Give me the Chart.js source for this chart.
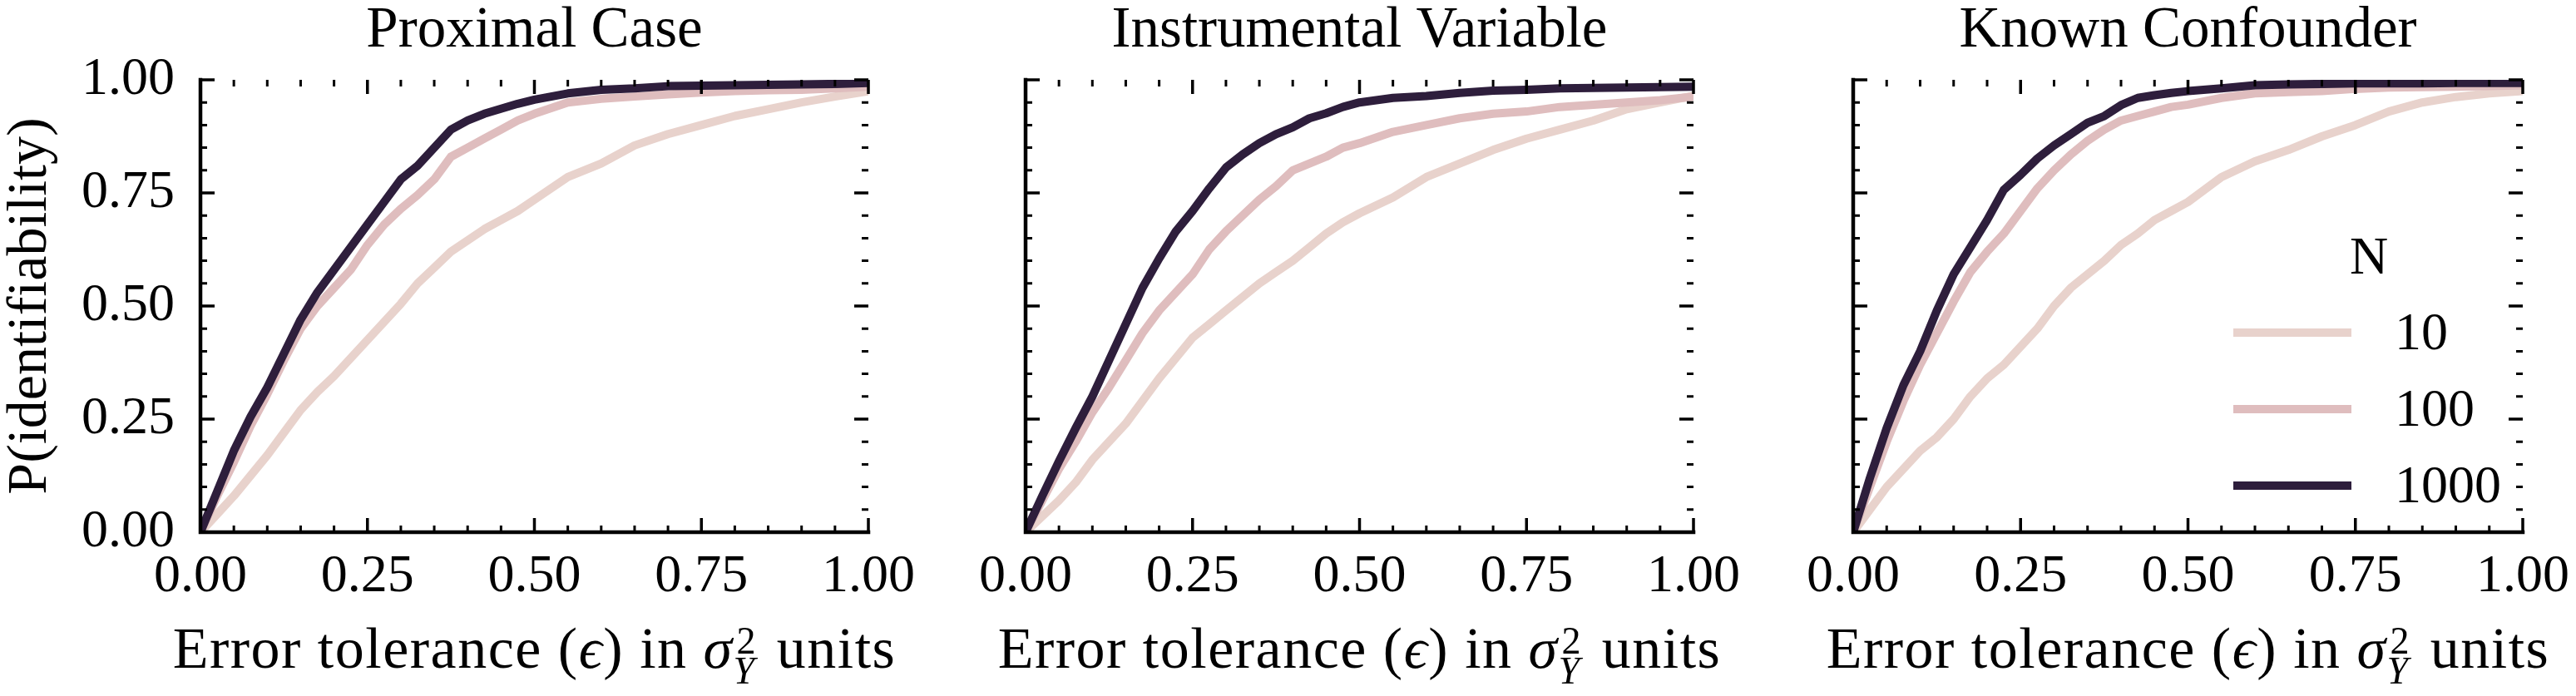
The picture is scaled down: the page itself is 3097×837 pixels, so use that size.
<!DOCTYPE html>
<html>
<head>
<meta charset="utf-8">
<script src="https://cdn.jsdelivr.net/npm/chart.js@4.4.1/dist/chart.umd.min.js"></script>
<style>
  html, body { margin: 0; padding: 0; background: #fff; }
  #wrap { position: relative; width: 3097px; height: 837px; overflow: hidden; }
  #wrap canvas { position: absolute; top: 0; }
</style>
</head>
<body>
<div id="wrap">
  <canvas id="c0" width="1104" height="837" style="left:0px"></canvas>
  <canvas id="c1" width="1104" height="837" style="left:992px"></canvas>
  <canvas id="c2" width="1104" height="837" style="left:1987px"></canvas>
</div>
<script>
/* ---------- данные ---------- */
const eps = [0, 0.025, 0.05, 0.075, 0.1, 0.125, 0.15, 0.175, 0.2, 0.225, 0.25, 0.275, 0.3, 0.325, 0.35,
             0.375, 0.4, 0.425, 0.45, 0.475, 0.5, 0.55, 0.6, 0.65, 0.7, 0.75, 0.8, 0.85, 0.9, 0.95, 1.0];
const sampleSizes = ['10', '100', '1000'];
const panelTitles = ['Proximal Case', 'Instrumental Variable', 'Known Confounder'];
const tickVals = [0, 0.25, 0.5, 0.75, 1];

// Proximal Case
const proxN10   = [0, 0.04, 0.08, 0.125, 0.17, 0.22, 0.27, 0.31, 0.345, 0.385, 0.425, 0.465, 0.505, 0.55, 0.585,
                   0.62, 0.645, 0.67, 0.69, 0.71, 0.735, 0.785, 0.815, 0.855, 0.88, 0.90, 0.92, 0.935, 0.95, 0.963, 0.975];
const proxN100  = [0, 0.08, 0.155, 0.235, 0.305, 0.38, 0.45, 0.50, 0.54, 0.58, 0.635, 0.68, 0.715, 0.745, 0.78,
                   0.83, 0.85, 0.87, 0.89, 0.91, 0.925, 0.95, 0.958, 0.963, 0.968, 0.972, 0.975, 0.977, 0.978, 0.981, 0.985];
const proxN1000 = [0, 0.09, 0.18, 0.255, 0.32, 0.395, 0.47, 0.53, 0.58, 0.63, 0.68, 0.73, 0.78, 0.81, 0.85,
                   0.89, 0.91, 0.925, 0.936, 0.947, 0.956, 0.97, 0.978, 0.981, 0.986, 0.987, 0.988, 0.989, 0.99, 0.991, 0.993];

// Instrumental Variable
const ivN10   = [0, 0.035, 0.07, 0.11, 0.16, 0.20, 0.24, 0.29, 0.34, 0.385, 0.43, 0.46, 0.49, 0.52, 0.55,
                 0.575, 0.60, 0.63, 0.66, 0.685, 0.705, 0.74, 0.785, 0.815, 0.845, 0.87, 0.89, 0.91, 0.935, 0.95, 0.965];
const ivN100  = [0, 0.07, 0.14, 0.20, 0.265, 0.32, 0.38, 0.44, 0.49, 0.53, 0.57, 0.625, 0.665, 0.70, 0.735,
                 0.765, 0.80, 0.815, 0.83, 0.85, 0.86, 0.885, 0.90, 0.915, 0.925, 0.93, 0.94, 0.945, 0.95, 0.955, 0.963];
const ivN1000 = [0, 0.08, 0.157, 0.23, 0.30, 0.38, 0.46, 0.54, 0.605, 0.665, 0.71, 0.76, 0.806, 0.835, 0.86,
                 0.88, 0.895, 0.915, 0.926, 0.94, 0.95, 0.96, 0.964, 0.971, 0.976, 0.978, 0.981, 0.982, 0.983, 0.984, 0.985];

// Known Confounder
const kcN10   = [0, 0.05, 0.10, 0.14, 0.18, 0.21, 0.25, 0.30, 0.34, 0.37, 0.41, 0.45, 0.50, 0.54, 0.57,
                 0.60, 0.635, 0.66, 0.69, 0.71, 0.73, 0.785, 0.82, 0.845, 0.875, 0.90, 0.93, 0.95, 0.962, 0.97, 0.975];
const kcN100  = [0, 0.10, 0.20, 0.29, 0.37, 0.44, 0.51, 0.575, 0.62, 0.66, 0.71, 0.76, 0.80, 0.835, 0.865,
                 0.89, 0.91, 0.92, 0.93, 0.94, 0.945, 0.96, 0.97, 0.973, 0.975, 0.98, 0.983, 0.984, 0.985, 0.986, 0.988];
const kcN1000 = [0, 0.12, 0.23, 0.325, 0.40, 0.49, 0.57, 0.63, 0.69, 0.757, 0.79, 0.826, 0.855, 0.88, 0.905,
                 0.92, 0.944, 0.96, 0.966, 0.971, 0.975, 0.981, 0.988, 0.99, 0.991, 0.992, 0.992, 0.992, 0.993, 0.993, 0.993];

const panelSeries = [
  [proxN10, proxN100, proxN1000],
  [ivN10, ivN100, ivN1000],
  [kcN10, kcN100, kcN1000]
];

/* ---------- стиль ---------- */
const lineColors = ['#e8d2cc', '#dfbdbe', '#2e1e3c'];
const SERIF = '"Liberation Serif", "DejaVu Serif", serif';
const FS_TICK = 64;      // цифры
const FS_TEXT = 69;      // слова
const PLOT_W = [803, 803, 805];

/* ---------- рамка, засечки, подпись оси, легенда ---------- */
const frame = {
  id: 'frame',
  afterDatasetsDraw(chart) {
    const {ctx, chartArea: a, scales: {x, y}} = chart;
    ctx.save();
    ctx.strokeStyle = '#000';
    ctx.lineCap = 'butt';
    for (let i = 0; i <= 20; i++) {
      const v = i / 20;
      const major = i % 5 === 0;
      const len = major ? 17 : 8;
      ctx.lineWidth = major ? 3.5 : 3;
      const px = x.getPixelForValue(v), py = y.getPixelForValue(v);
      ctx.beginPath();
      ctx.moveTo(px, a.bottom); ctx.lineTo(px, a.bottom - len);
      ctx.moveTo(px, a.top);    ctx.lineTo(px, a.top + len);
      ctx.moveTo(a.left, py);   ctx.lineTo(a.left + len, py);
      ctx.moveTo(a.right, py);  ctx.lineTo(a.right - len, py);
      ctx.stroke();
    }
    // только левая и нижняя оси
    ctx.lineWidth = 4.5;
    ctx.lineCap = 'square';
    ctx.beginPath();
    ctx.moveTo(a.left, a.top);
    ctx.lineTo(a.left, a.bottom);
    ctx.lineTo(a.right, a.bottom);
    ctx.stroke();
    ctx.restore();
  },
  afterDraw(chart, args, opts) {
    const {ctx, chartArea: a} = chart;
    ctx.save();
    ctx.fillStyle = '#000';
    ctx.textBaseline = 'alphabetic';
    // Error tolerance (ϵ) in σ²_Y units
    const reg = `70px ${SERIF}`, ital = `italic 70px ${SERIF}`;
    const small = `46px ${SERIF}`, smallIt = `italic 46px ${SERIF}`;
    const parts = [
      {t: 'Error tolerance (', f: reg},
      {t: '\u03F5', f: ital},
      {t: ') in ', f: reg},
      {t: '\u03C3', f: ital},
      {sup: '2', sub: 'Y'},
      {t: ' units', f: reg}
    ];
    ctx.letterSpacing = '1.5px';
    let total = 0;
    parts.forEach(p => {
      if (p.sup) {
        ctx.font = small; const w1 = ctx.measureText(p.sup).width;
        ctx.font = smallIt; const w2 = ctx.measureText(p.sub).width;
        p.w = Math.max(w1, w2) + 6;
      } else {
        ctx.font = p.f; p.w = ctx.measureText(p.t).width;
      }
      total += p.w;
    });
    let cx = (a.left + a.right) / 2 - total / 2;
    const base = 803;
    parts.forEach(p => {
      if (p.sup) {
        ctx.font = small; ctx.fillText(p.sup, cx + 4, base - 17);
        ctx.font = smallIt; ctx.fillText(p.sub, cx, base + 19);
      } else {
        ctx.font = p.f; ctx.fillText(p.t, cx, base);
      }
      cx += p.w;
    });
    ctx.letterSpacing = '0px';

    if (opts.legend) {
      const x0 = a.left + 457, x1 = x0 + 142, lx = x1 + 52;
      ctx.textBaseline = 'middle';
      ctx.font = `${FS_TICK}px ${SERIF}`;
      ctx.textAlign = 'center';
      ctx.fillText('N', a.left + 620, 312);
      ctx.textAlign = 'left';
      chart.data.datasets.forEach((ds, i) => {
        const yy = 400 + i * 92;
        ctx.strokeStyle = ds.borderColor;
        ctx.lineWidth = 10;
        ctx.beginPath(); ctx.moveTo(x0, yy); ctx.lineTo(x1, yy); ctx.stroke();
        ctx.fillText(ds.label, lx, yy + 3);
      });
    }
    ctx.restore();
  }
};

/* ---------- графики ---------- */
panelTitles.forEach((title, k) => {
  const first = k === 0;
  new Chart(document.getElementById('c' + k), {
    type: 'line',
    data: {
      labels: eps,
      datasets: panelSeries[k].map((vals, i) => ({
        label: sampleSizes[i],
        data: eps.map((e, j) => ({x: e, y: vals[j]})),
        borderColor: lineColors[i],
        borderWidth: 10,
        borderJoinStyle: 'round',
        pointRadius: 0,
        tension: 0,
        clip: 0,
        order: 2 - i
      }))
    },
    options: {
      responsive: false,
      animation: false,
      devicePixelRatio: 1,
      layout: {padding: {left: 0, top: 0, bottom: 0, right: 1104 - 241 - PLOT_W[k]}},
      plugins: {
        legend: {display: false},
        tooltip: {enabled: false},
        title: {
          display: true, text: title, fullSize: false,
          color: '#000',
          font: {family: SERIF, size: FS_TEXT, weight: 'normal', lineHeight: 1.0},
          padding: {top: 3, bottom: 24}
        },
        frame: {legend: k === 2}
      },
      scales: {
        x: {
          type: 'linear', min: 0, max: 1,
          grid: {display: false, drawTicks: false},
          border: {display: false},
          afterBuildTicks: s => { s.ticks = tickVals.map(v => ({value: v})); },
          afterFit: s => { s.height = 197; s.paddingLeft = 0; s.paddingRight = 0; },
          ticks: {
            color: '#000', padding: 16, maxRotation: 0,
            font: {family: SERIF, size: FS_TICK},
            callback: v => v.toFixed(2)
          }
        },
        y: {
          type: 'linear', min: 0, max: 1,
          grid: {display: false, drawTicks: false},
          border: {display: false},
          afterBuildTicks: s => { s.ticks = tickVals.map(v => ({value: v})); },
          afterFit: s => { s.width = 241; s.paddingTop = 0; s.paddingBottom = 0; },
          title: {
            display: first, text: 'P(identifiability)', color: '#000',
            font: {family: SERIF, size: 68, lineHeight: 1.1}, padding: {top: 0, bottom: 0}
          },
          ticks: {
            display: first, color: '#000', padding: 31,
            font: {family: SERIF, size: FS_TICK},
            callback: v => v.toFixed(2)
          }
        }
      }
    },
    plugins: [frame]
  });
});
</script>
</body>
</html>
